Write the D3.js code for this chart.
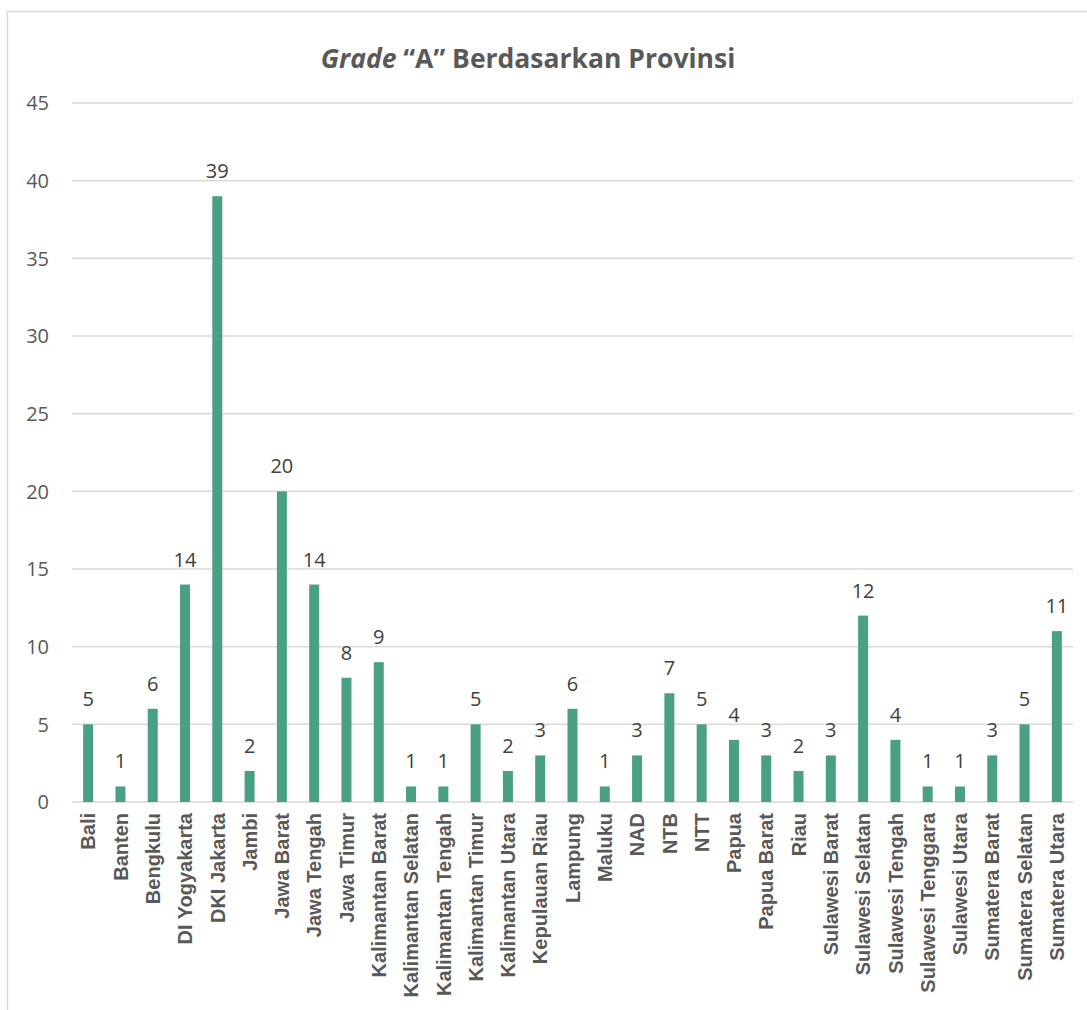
<!DOCTYPE html>
<html>
<head>
<meta charset="utf-8">
<script src="https://cdn.jsdelivr.net/npm/d3@7"></script>
<style>
  body { margin: 0; background: #fff; }
  svg { display: block; }
</style>
</head>
<body>
<svg></svg>
<script>
const provinces = ["Bali", "Banten", "Bengkulu", "DI Yogyakarta", "DKI Jakarta", "Jambi", "Jawa Barat",
  "Jawa Tengah", "Jawa Timur", "Kalimantan Barat", "Kalimantan Selatan", "Kalimantan Tengah",
  "Kalimantan Timur", "Kalimantan Utara", "Kepulauan Riau", "Lampung", "Maluku", "NAD", "NTB", "NTT",
  "Papua", "Papua Barat", "Riau", "Sulawesi Barat", "Sulawesi Selatan", "Sulawesi Tengah",
  "Sulawesi Tenggara", "Sulawesi Utara", "Sumatera Barat", "Sumatera Selatan", "Sumatera Utara"];
const counts = [5, 1, 6, 14, 39, 2, 20, 14, 8, 9, 1, 1, 5, 2, 3, 6, 1, 3, 7, 5, 4, 3, 2, 3, 12, 4, 1, 1, 3, 5, 11];
const yTicks = [0, 5, 10, 15, 20, 25, 30, 35, 40, 45];

const width = 1087;
const height = 1010;
const margin = { top: 103, right: 14, bottom: 208, left: 72 };
const innerWidth = width - margin.left - margin.right;
const innerHeight = height - margin.top - margin.bottom;

const svg = d3.select("svg").attr("width", width).attr("height", height);

// chart frame, runs off the right and bottom edge
svg.append("rect")
  .attr("x", 7.5).attr("y", 11.5)
  .attr("width", 1200).attr("height", 1200)
  .attr("fill", "none")
  .attr("stroke", "#d9d9d9")
  .attr("stroke-width", 1.5);

const title = svg.append("text")
  .attr("x", 528).attr("y", 68)
  .attr("text-anchor", "middle")
  .attr("font-family", "'Open Sans', sans-serif")
  .attr("font-weight", "bold")
  .attr("font-size", 26.5)
  .attr("fill", "#595959");
title.append("tspan").attr("font-style", "italic").text("Grade");
title.append("tspan").text(" \u201CA\u201D Berdasarkan Provinsi");

const g = svg.append("g").attr("transform", `translate(${margin.left},${margin.top})`);

const x = d3.scaleBand().domain(provinces).range([0, innerWidth]).paddingInner(0.69).paddingOuter(0.345);
const y = d3.scaleLinear().domain([0, 45]).range([innerHeight, 0]);

// gridlines
g.selectAll("line.grid")
  .data(yTicks)
  .enter()
  .append("line")
  .attr("class", "grid")
  .attr("x1", 0).attr("x2", innerWidth)
  .attr("y1", d => y(d)).attr("y2", d => y(d))
  .attr("stroke", "#d9d9d9")
  .attr("stroke-width", 1.5);

// y tick labels
g.selectAll("text.ytick")
  .data(yTicks)
  .enter()
  .append("text")
  .attr("class", "ytick")
  .attr("x", -23)
  .attr("y", d => y(d))
  .attr("dy", "0.36em")
  .attr("text-anchor", "end")
  .attr("font-family", "'Open Sans', sans-serif")
  .attr("font-size", 20)
  .attr("fill", "#595959")
  .text(d => d);

const data = provinces.map((p, i) => ({ p, v: counts[i] }));

g.selectAll("rect.bar")
  .data(data)
  .enter()
  .append("rect")
  .attr("class", "bar")
  .attr("x", d => x(d.p))
  .attr("y", d => y(d.v))
  .attr("width", x.bandwidth())
  .attr("height", d => innerHeight - y(d.v))
  .attr("fill", "#4aa085");

g.selectAll("text.val")
  .data(data)
  .enter()
  .append("text")
  .attr("class", "val")
  .attr("x", d => x(d.p) + x.bandwidth() / 2)
  .attr("y", d => y(d.v) - 18)
  .attr("text-anchor", "middle")
  .attr("font-family", "'Open Sans', sans-serif")
  .attr("font-size", 20)
  .attr("fill", "#404040")
  .text(d => d.v);

g.selectAll("text.cat")
  .data(data)
  .enter()
  .append("text")
  .attr("class", "cat")
  .attr("transform", d => `translate(${x(d.p) + x.bandwidth() / 2},${innerHeight + 11}) rotate(-90)`)
  .attr("dy", "0.36em")
  .attr("text-anchor", "end")
  .attr("font-family", "'Liberation Sans', Arial, sans-serif")
  .attr("font-weight", "bold")
  .attr("font-size", 20)
  .attr("fill", "#595959")
  .text(d => d.p);
</script>
</body>
</html>
